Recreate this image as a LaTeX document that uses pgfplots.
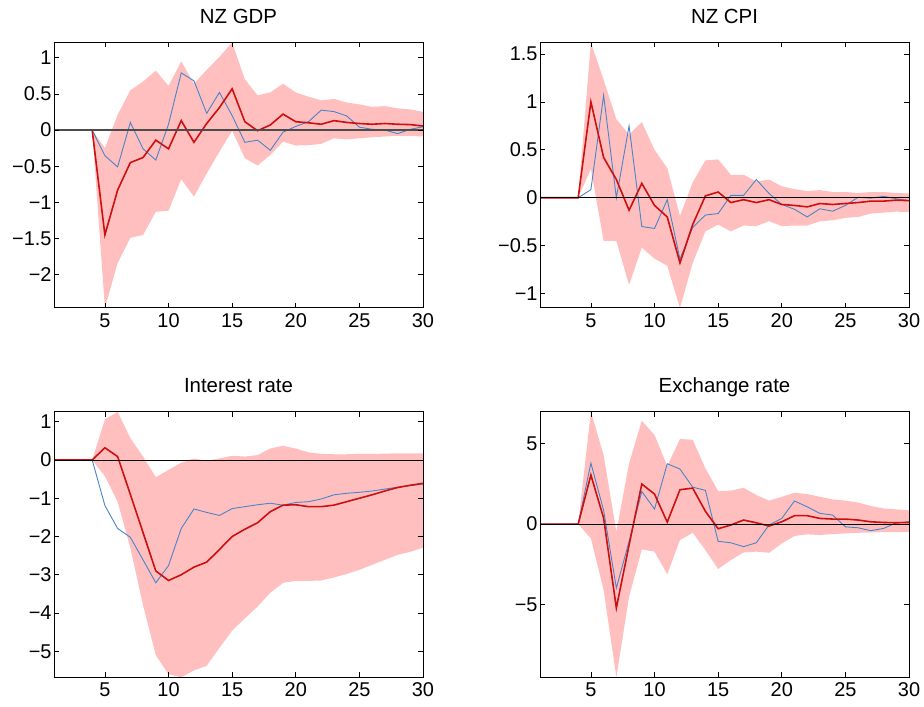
\documentclass[border=0pt]{standalone}
\usepackage{pgfplots}
\pgfplotsset{compat=1.18}
\usepackage{pgfplotstable}
\usepgfplotslibrary{fillbetween}
\usepackage{fontspec}
\setmainfont{Liberation Sans}

\definecolor{bandpink}{RGB}{255,191,191}
\definecolor{med}{RGB}{204,16,16}
\definecolor{alt}{RGB}{74,132,200}

\pgfplotstableread{
x lo hi med alt
1 0 0 0 0
2 0 0 0 0
3 0 0 0 0
4 0 0 0 0
5 -2.46 -0.25 -1.45 -0.355
6 -1.84 0.21 -0.83 -0.51
7 -1.49 0.55 -0.45 0.105
8 -1.45 0.67 -0.38 -0.26
9 -1.13 0.82 -0.14 -0.415
10 -1.115 0.61 -0.26 0.08
11 -0.68 0.95 0.13 0.79
12 -0.92 0.64 -0.17 0.68
13 -0.60 0.83 0.09 0.23
14 -0.30 1.01 0.31 0.52
15 -0.01 1.21 0.57 0.20
16 -0.39 0.70 0.115 -0.17
17 -0.49 0.48 -0.01 -0.14
18 -0.345 0.52 0.07 -0.28
19 -0.16 0.64 0.22 -0.03
20 -0.215 0.52 0.115 0.05
21 -0.21 0.46 0.10 0.115
22 -0.19 0.41 0.08 0.275
23 -0.115 0.43 0.13 0.255
24 -0.13 0.38 0.105 0.195
25 -0.115 0.355 0.09 0.04
26 -0.10 0.32 0.08 0.01
27 -0.09 0.33 0.09 0.0
28 -0.08 0.30 0.08 -0.05
29 -0.08 0.285 0.075 0.01
30 -0.09 0.25 0.055 0.045
}\gdp

\pgfplotstableread{
x lo hi med alt
1 0 0 0 0
2 0 0 0 0
3 0 0 0 0
4 0 0 0 0
5 0.30 1.62 1.0 0.085
6 -0.45 1.23 0.42 1.07
7 -0.45 0.82 0.19 0.0
8 -0.91 0.66 -0.13 0.75
9 -0.52 0.79 0.15 -0.30
10 -0.635 0.50 -0.08 -0.32
11 -0.71 0.31 -0.20 -0.02
12 -1.15 -0.19 -0.68 -0.64
13 -0.68 0.16 -0.28 -0.31
14 -0.35 0.39 0.02 -0.18
15 -0.28 0.40 0.06 -0.165
16 -0.35 0.24 -0.05 0.025
17 -0.29 0.24 -0.02 0.025
18 -0.295 0.17 -0.05 0.19
19 -0.245 0.19 -0.02 0.045
20 -0.295 0.12 -0.07 -0.07
21 -0.29 0.09 -0.08 -0.12
22 -0.29 0.07 -0.095 -0.20
23 -0.245 0.08 -0.06 -0.115
24 -0.235 0.06 -0.07 -0.14
25 -0.21 0.06 -0.06 -0.08
26 -0.20 0.05 -0.05 0.005
27 -0.165 0.06 -0.035 -0.005
28 -0.155 0.06 -0.035 0.015
29 -0.145 0.05 -0.025 -0.01
30 -0.15 0.045 -0.03 -0.03
}\cpi

\pgfplotstableread{
x lo hi med alt
1 0 0 0 0
2 0 0 0 0
3 0 0 0 0
4 0 0 0 0
5 -0.42 1.06 0.32 -1.19
6 -1.09 1.26 0.09 -1.79
7 -2.3 0.57 -0.9 -2.02
8 -3.8 0.09 -1.9 -2.61
9 -5.1 -0.45 -2.9 -3.21
10 -5.6 -0.26 -3.15 -2.76
11 -5.68 -0.07 -3.0 -1.79
12 -5.5 0.04 -2.8 -1.28
13 -5.38 -0.02 -2.67 -1.37
14 -4.91 0.04 -2.34 -1.45
15 -4.46 0.11 -2.0 -1.27
16 -4.14 0.09 -1.81 -1.22
17 -3.83 0.13 -1.64 -1.17
18 -3.47 0.30 -1.35 -1.13
19 -3.21 0.37 -1.18 -1.18
20 -3.16 0.30 -1.17 -1.11
21 -3.16 0.20 -1.22 -1.09
22 -3.15 0.16 -1.22 -1.02
23 -3.07 0.15 -1.18 -0.91
24 -2.98 0.15 -1.09 -0.87
25 -2.87 0.16 -1.0 -0.845
26 -2.74 0.16 -0.91 -0.81
27 -2.61 0.165 -0.81 -0.76
28 -2.48 0.175 -0.72 -0.71
29 -2.40 0.175 -0.66 -0.67
30 -2.29 0.175 -0.61 -0.63
}\irate

\pgfplotstableread{
x lo hi med alt
1 0 0 0 0
2 0 0 0 0
3 0 0 0 0
4 0 0 0 0
5 -0.89 6.96 3.04 3.78
6 -4.09 4.28 0.37 0.85
7 -9.5 -0.48 -5.2 -3.97
8 -4.5 3.76 -1.3 -1.07
9 -1.57 6.4 2.48 2.02
10 -1.71 5.52 1.86 0.93
11 -3.12 3.6 0.12 3.74
12 -0.99 5.27 2.13 3.41
13 -0.54 5.23 2.23 2.29
14 -1.61 3.45 0.79 2.09
15 -2.79 2.05 -0.29 -1.07
16 -2.23 2.07 -0.06 -1.16
17 -1.76 2.25 0.25 -1.40
18 -1.71 1.80 0.08 -1.16
19 -1.78 1.45 -0.12 -0.06
20 -1.20 1.69 0.14 0.35
21 -0.74 1.94 0.52 1.43
22 -0.64 1.86 0.52 1.07
23 -0.68 1.69 0.35 0.66
24 -0.62 1.53 0.31 0.56
25 -0.58 1.45 0.31 -0.17
26 -0.54 1.34 0.25 -0.23
27 -0.52 1.12 0.14 -0.41
28 -0.50 0.97 0.10 -0.27
29 -0.50 0.91 0.08 0.08
30 -0.48 0.85 0.10 0.14
}\exch

\pgfplotsset{
  irf/.style={
    scale only axis, width=369bp, height=265.5bp,
    xmin=1, xmax=30,
    xtick={5,10,15,20,25,30}, xticklabels={5,10,15,20,25,30},
    tick align=inside, xtick pos=both, ytick pos=both,
    major tick length=5bp,
    axis line style={black, line width=1bp},
    tick style={black, line width=0.7bp},
    tick label style={font=\fontsize{20}{23}\selectfont},
    yticklabel style={xshift=1bp},
    xticklabel style={yshift=-2bp},
    title style={font=\fontsize{20.5}{24}\selectfont, anchor=base, yshift=13bp},
    axis on top,
  },
}

\begin{document}
\begin{tikzpicture}
\path (0,0) rectangle (924bp,707bp);

\begin{axis}[irf, at={(54bp,399bp)}, anchor=south west, title={NZ GDP},
  ymin=-2.46, ymax=1.21,
  ytick={-2,-1.5,-1,-0.5,0,0.5,1},
  yticklabels={−2,−1.5,−1,−0.5,0,0.5,1}]
  \addplot[name path=hiA, draw=none, forget plot] table[x=x,y=hi]{\gdp};
  \addplot[name path=loA, draw=none, forget plot] table[x=x,y=lo]{\gdp};
  \addplot[fill=bandpink, draw=none, forget plot] fill between[of=hiA and loA];
  \addplot[alt, line width=0.9bp] table[x=x,y=alt]{\gdp};
  \addplot[med, line width=1.6bp] table[x=x,y=med]{\gdp};
  \addplot[black!70, line width=1.4bp] coordinates {(1,0) (30,0)};
\end{axis}

\begin{axis}[irf, at={(540bp,399bp)}, anchor=south west, title={NZ CPI},
  ymin=-1.15, ymax=1.62,
  ytick={-1,-0.5,0,0.5,1,1.5},
  yticklabels={−1,−0.5,0,0.5,1,1.5}]
  \addplot[name path=hiB, draw=none, forget plot] table[x=x,y=hi]{\cpi};
  \addplot[name path=loB, draw=none, forget plot] table[x=x,y=lo]{\cpi};
  \addplot[fill=bandpink, draw=none, forget plot] fill between[of=hiB and loB];
  \addplot[alt, line width=0.9bp] table[x=x,y=alt]{\cpi};
  \addplot[med, line width=1.6bp] table[x=x,y=med]{\cpi};
  \addplot[black, line width=0.8bp] coordinates {(1,0) (30,0)};
\end{axis}

\begin{axis}[irf, at={(54bp,29.7bp)}, anchor=south west, title={Interest rate},
  ymin=-5.68, ymax=1.26,
  ytick={-5,-4,-3,-2,-1,0,1},
  yticklabels={−5,−4,−3,−2,−1,0,1}]
  \addplot[name path=hiC, draw=none, forget plot] table[x=x,y=hi]{\irate};
  \addplot[name path=loC, draw=none, forget plot] table[x=x,y=lo]{\irate};
  \addplot[fill=bandpink, draw=none, forget plot] fill between[of=hiC and loC];
  \addplot[alt, line width=0.9bp] table[x=x,y=alt]{\irate};
  \addplot[med, line width=1.6bp] table[x=x,y=med]{\irate};
  \addplot[black, line width=0.8bp] coordinates {(1,0) (30,0)};
\end{axis}

\begin{axis}[irf, at={(540bp,29.7bp)}, anchor=south west, title={Exchange rate},
  ymin=-9.5, ymax=6.96,
  ytick={-5,0,5},
  yticklabels={−5,0,5}]
  \addplot[name path=hiD, draw=none, forget plot] table[x=x,y=hi]{\exch};
  \addplot[name path=loD, draw=none, forget plot] table[x=x,y=lo]{\exch};
  \addplot[fill=bandpink, draw=none, forget plot] fill between[of=hiD and loD];
  \addplot[alt, line width=0.9bp] table[x=x,y=alt]{\exch};
  \addplot[med, line width=1.6bp] table[x=x,y=med]{\exch};
  \addplot[black, line width=0.8bp] coordinates {(1,0) (30,0)};
\end{axis}
\end{tikzpicture}
\end{document}
